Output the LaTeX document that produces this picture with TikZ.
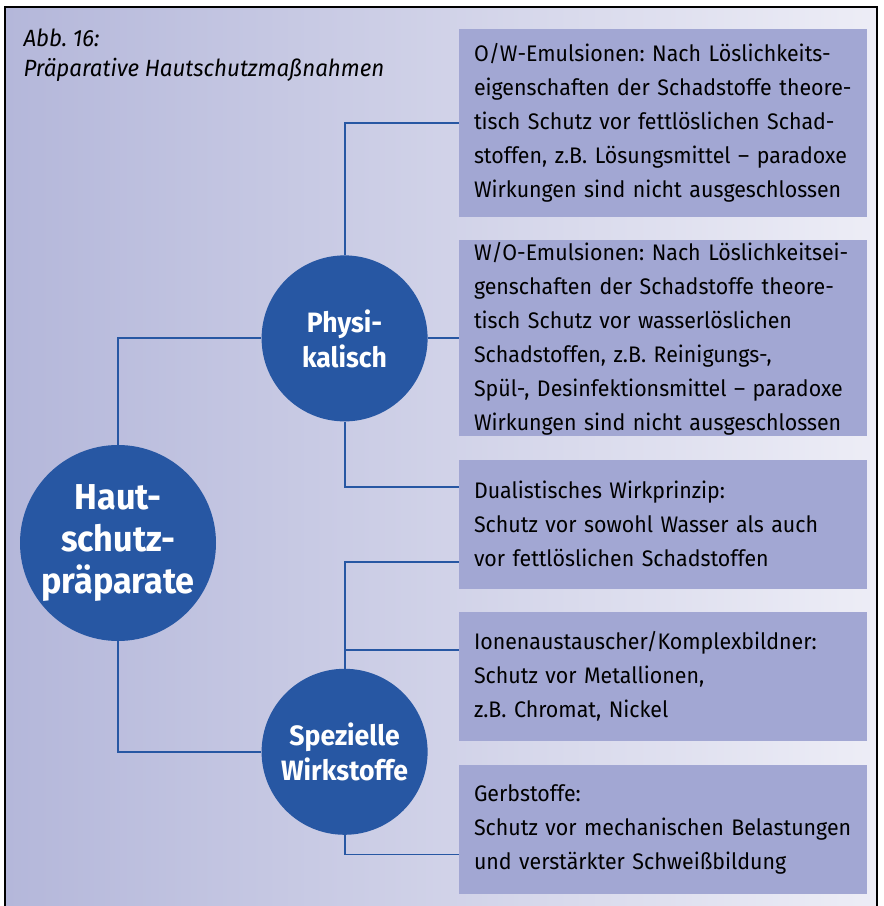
\documentclass[tikz,border=0pt]{standalone}
\usepackage{fontspec}
\setmainfont{Fira Sans}[FakeStretch=0.95]
\usetikzlibrary{positioning}

\definecolor{hubblue}{RGB}{39,87,163}
\definecolor{boxlav}{RGB}{162,167,211}
\definecolor{bgleft}{RGB}{180,183,218}
\definecolor{bgright}{RGB}{237,237,246}

\tikzset{
  hub/.style={circle, fill=hubblue, text=white, align=center, inner sep=0pt,
    minimum size=166pt, font=\bfseries\fontsize{28}{35}\selectfont},
  bighub/.style={hub, minimum size=196pt, font=\bfseries\fontsize{36}{42}\selectfont},
  infobox/.style={rectangle, fill=boxlav, text width=408pt, inner xsep=0pt, inner ysep=0pt,
    minimum height=129pt, align=left, font=\fontsize{22.5}{34}\selectfont,
    execute at begin node={\leftskip=15pt\hyphenpenalty=10000}},
  link/.style={draw=hubblue, line width=1.8pt},
}

\begin{document}
\frenchspacing
\begin{tikzpicture}[x=1pt, y=1pt]
\useasboundingbox (0,0) rectangle (884,906);
\fill[left color=bgleft, right color=bgright] (5,0) rectangle (877,899);
\draw[line width=1.5pt] (5,0) -- (5,899) -- (877,899) -- (877,0);

\node[anchor=base west, align=left, font=\itshape\fontsize{23.5}{30}\selectfont] (title) at (20,829)
  {Abb. 16:\\Präparative Hautschutzmaßnahmen};

% right column
\node[infobox, minimum height=188pt] (ow) at (663,783)
  {O/W-Emulsionen: Nach Löslichkeits-\\eigenschaften der Schadstoffe theore-\\tisch Schutz vor fettlöslichen Schad-\\stoffen, z.B. Lösungsmittel – paradoxe\\Wirkungen sind nicht ausgeschlossen};
\node[infobox, minimum height=196pt, below=23pt of ow] (wo)
  {W/O-Emulsionen: Nach Löslichkeitsei-\\genschaften der Schadstoffe theore-\\tisch Schutz vor wasserlöslichen\\Schadstoffen, z.B. Reinigungs-,\\Spül-, Desinfektionsmittel – paradoxe\\Wirkungen sind nicht ausgeschlossen};
\node[infobox, below=23pt of wo] (dual)
  {Dualistisches Wirkprinzip:\\Schutz vor sowohl Wasser als auch\\vor fettlöslichen Schadstoffen};
\node[infobox, below=23pt of dual] (ionen)
  {Ionenaustauscher/Komplexbildner:\\Schutz vor Metallionen,\\z.B. Chromat, Nickel};
\node[infobox, below=23pt of ionen] (gerb)
  {Gerbstoffe:\\Schutz vor mechanischen Belastungen\\und verstärkter Schweißbildung};

% circles
\node[hub, left=31pt of wo] (phys) {Physi-\\kalisch};
\node[hub, below=247pt of phys] (spez) {Spezielle\\Wirkstoffe};
\node[bighub] (haut) at (118,363) {Haut-\\schutz-\\präparate};

\draw[link] (haut.north) |- (phys.west);
\draw[link] (haut.south) |- (spez.west);
\draw[link] (phys.north) |- (ow.west);
\draw[link] (phys.east) -- (wo.west);
\draw[link] (phys.south) |- ([yshift=37.5pt]dual.west);
\draw[link] (spez.north) |- ([yshift=-37.5pt]dual.west);
\draw[link] (spez.north) |- ([yshift=26.5pt]ionen.west);
\draw[link] (spez.south) |- ([yshift=-25.5pt]gerb.west);
\end{tikzpicture}
\end{document}
